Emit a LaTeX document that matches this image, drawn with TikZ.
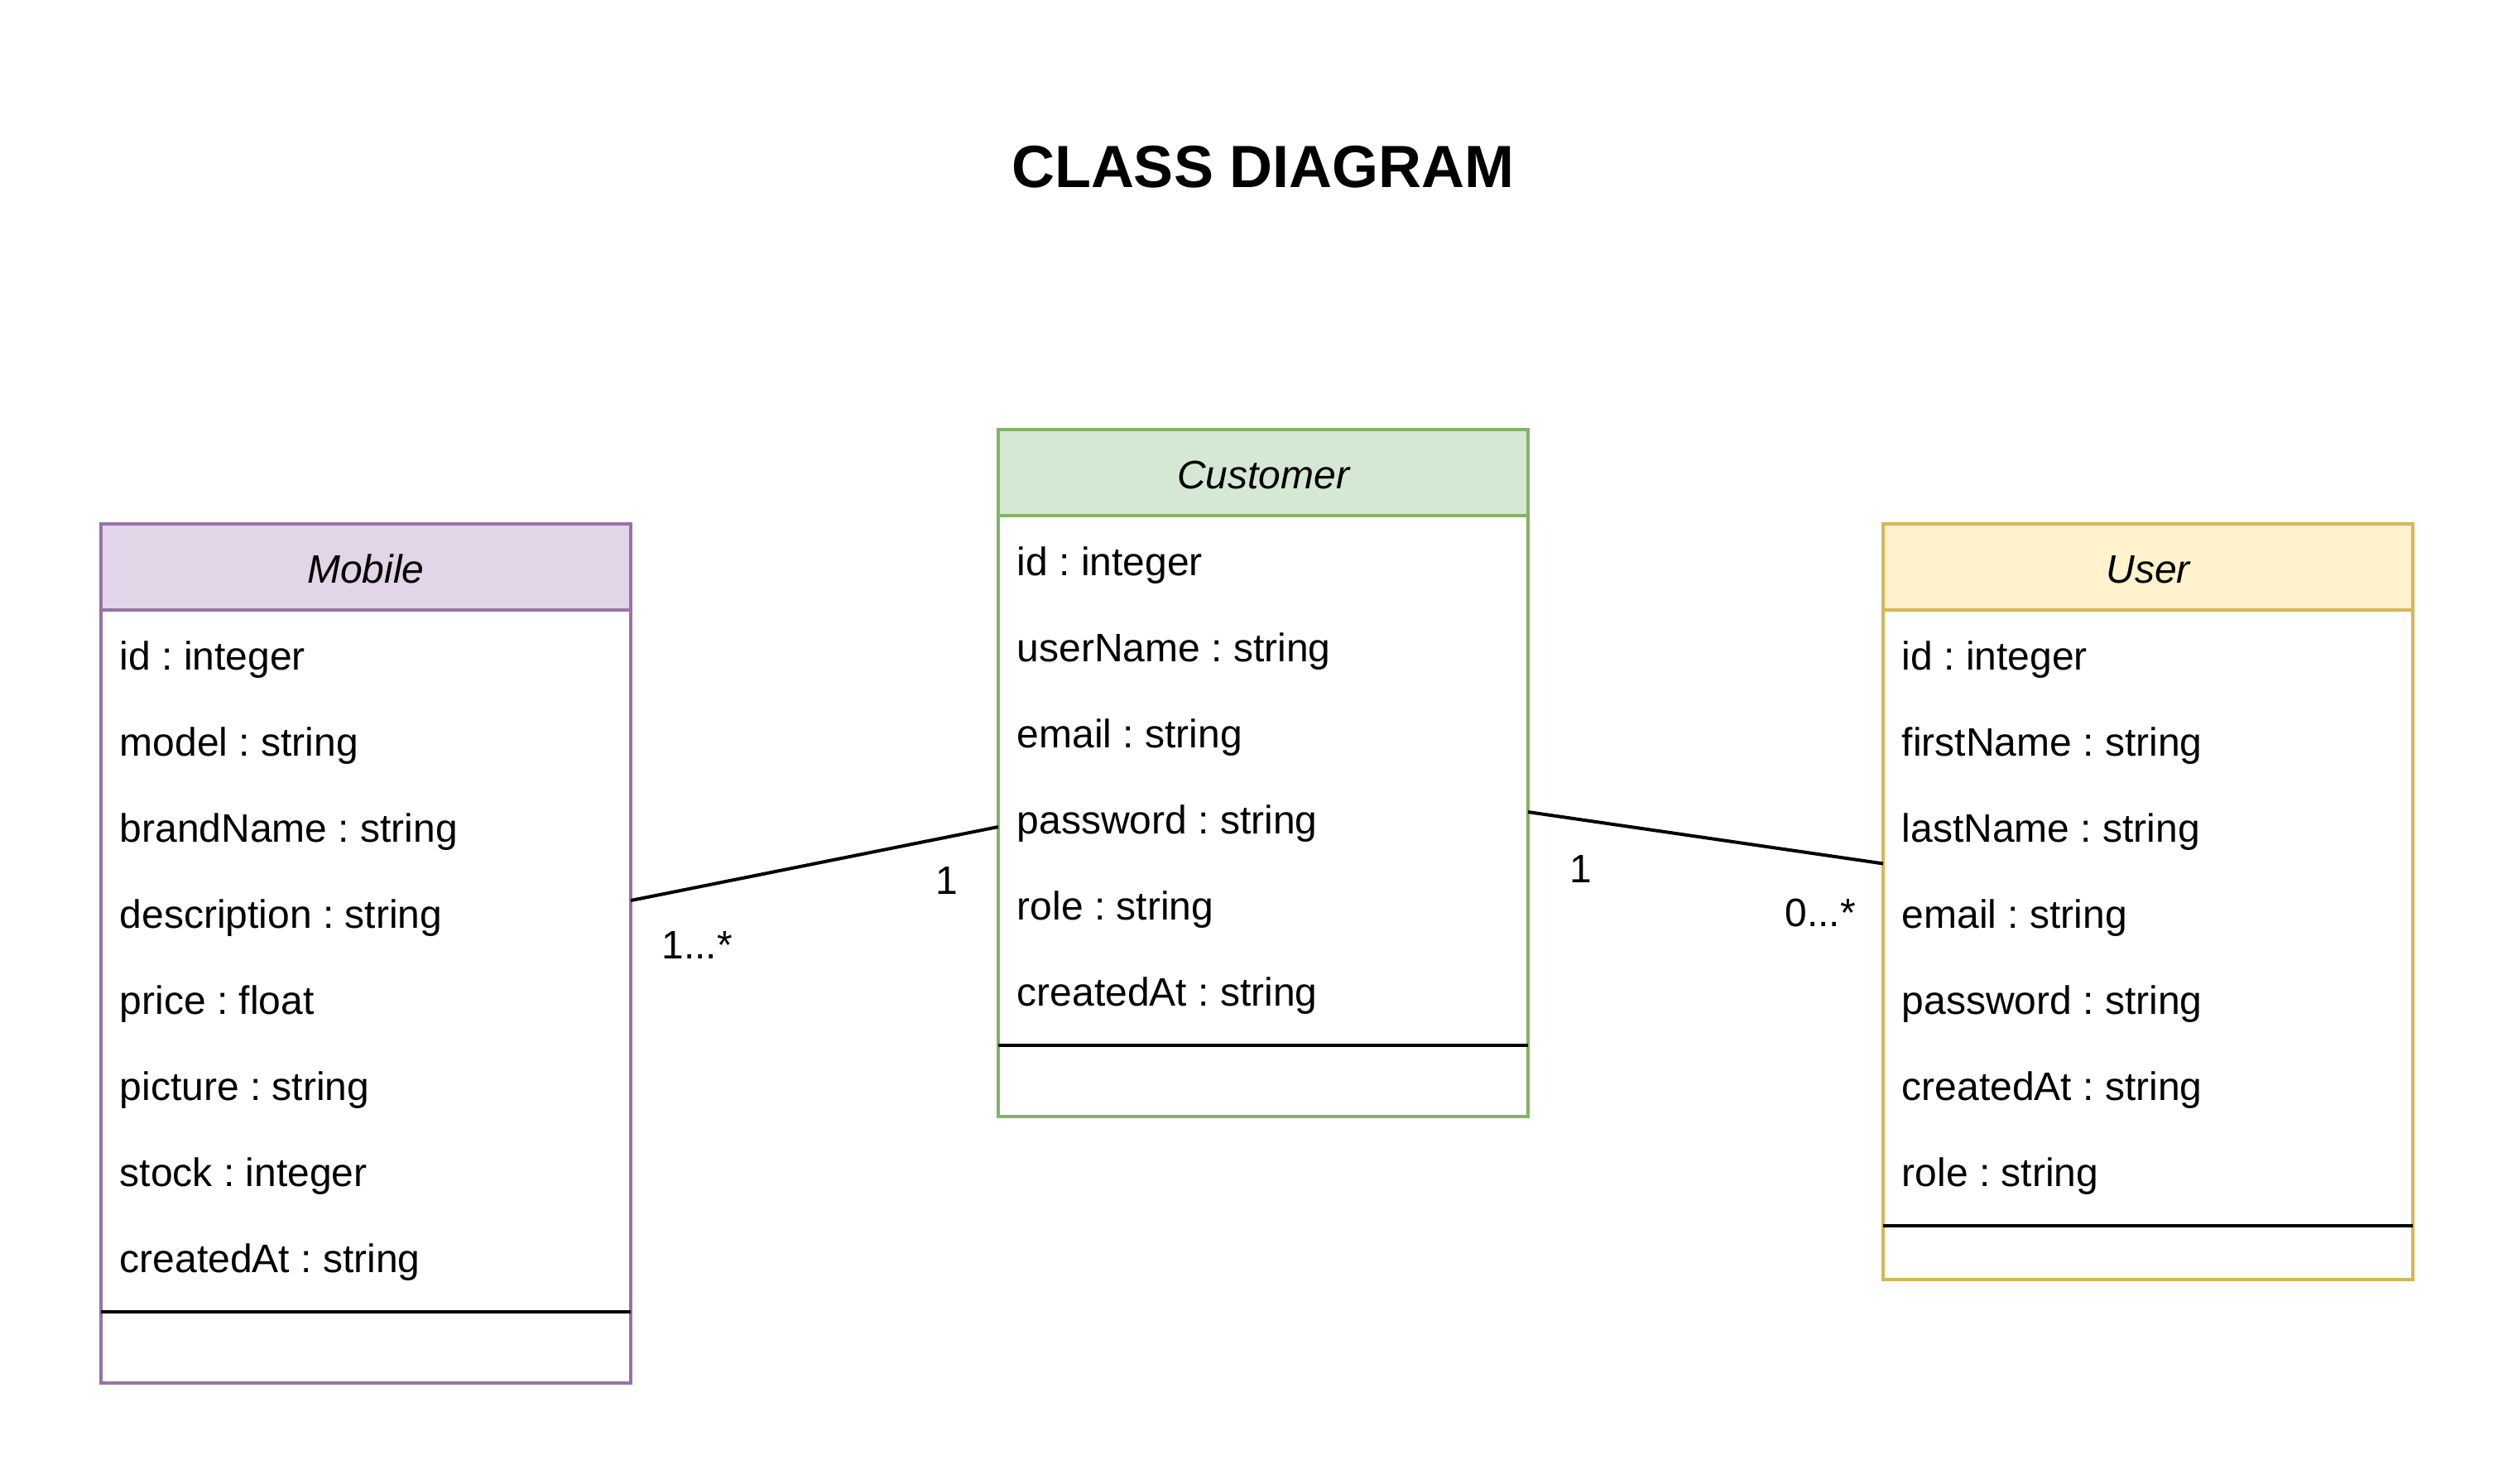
\documentclass[tikz,border=0pt]{standalone}
\usepackage{fontspec}
\setmainfont{Liberation Sans}
\usetikzlibrary{positioning,calc}

\definecolor{mobfill}{HTML}{E1D5E7}
\definecolor{mobline}{HTML}{9673A6}
\definecolor{custfill}{HTML}{D5E8D4}
\definecolor{custline}{HTML}{82B366}
\definecolor{userfill}{HTML}{FFF2CC}
\definecolor{userline}{HTML}{D6B656}

\tikzset{
  classbox/.style={draw=#1, line width=1pt, fill=white, minimum width=160pt,
    anchor=north west, inner sep=0pt, outer sep=0pt},
  classhead/.style 2 args={draw=#1, fill=#2, line width=1pt, minimum width=160pt,
    minimum height=26pt, anchor=north west, inner sep=0pt, outer sep=0pt,
    font=\fontsize{12}{14.4}\selectfont\itshape, text height=12pt, text depth=2.4pt},
  attr/.style={anchor=west, inner sep=0pt, text height=12.6pt, text depth=2.4pt},
  mult/.style={inner sep=0pt, text height=10.9pt, text depth=2.5pt},
  sepline/.style={line width=1pt, black},
  assoc/.style={line width=1pt, black},
}

\begin{document}
\frenchspacing
\begin{tikzpicture}[x=1pt, y=-1pt, font=\fontsize{12}{14.4}\selectfont]
\useasboundingbox (0,0) rectangle (759,448);
% title
\node[font=\fontsize{18}{21.6}\selectfont\bfseries] (title) at (381.5,50.3) {CLASS DIAGRAM};

% Mobile
\node[classbox=mobline, minimum height=259.5pt] (mobile) at (30.5,158.25) {};
\node[classhead={mobline}{mobfill}] (mobilehead) at (mobile.north west) {Mobile};
\foreach \a [count=\i] in {id : integer, model : string, brandName : string,
    description : string, price : float, picture : string, stock : integer,
    createdAt : string}
  \node[attr] (mobile\i) at ($(mobilehead.south west)+(5.5,{26*\i-13})$) {\a};
\draw[sepline] ($(mobilehead.south west)+(0,212)$) -- ($(mobilehead.south east)+(0,212)$);

% Customer
\node[classbox=custline, minimum height=207.6pt] (customer) at (301.5,129.75) {};
\node[classhead={custline}{custfill}] (customerhead) at (customer.north west) {Customer};
\foreach \a [count=\i] in {id : integer, userName : string, email : string,
    password : string, role : string, createdAt : string}
  \node[attr] (customer\i) at ($(customerhead.south west)+(5.5,{26*\i-13})$) {\a};
\draw[sepline] ($(customerhead.south west)+(0,160)$) -- ($(customerhead.south east)+(0,160)$);

% User
\node[classbox=userline, minimum height=228.2pt] (user) at (568.75,158.25) {};
\node[classhead={userline}{userfill}] (userhead) at (user.north west) {User};
\foreach \a [count=\i] in {id : integer, firstName : string, lastName : string,
    email : string, password : string, createdAt : string, role : string}
  \node[attr] (user\i) at ($(userhead.south west)+(5.5,{26*\i-13})$) {\a};
\draw[sepline] ($(userhead.south west)+(0,186)$) -- ($(userhead.south east)+(0,186)$);

% associations
\draw[assoc] ([yshift=-113.75pt]mobile.north east) -- ([yshift=-120pt]customer.north west);
\draw[assoc] ([yshift=-115.5pt]customer.north east) -- ([yshift=-102.6pt]user.north west);
\node[mult] (mobilemult) at (210.5,285.5) {1...*};
\node[mult] (customermultL) at (286,265.8) {1};
\node[mult] (customermultR) at (477.5,262.5) {1};
\node[mult] (usermult) at (549.8,275.6) {0...*};
\end{tikzpicture}
\end{document}
